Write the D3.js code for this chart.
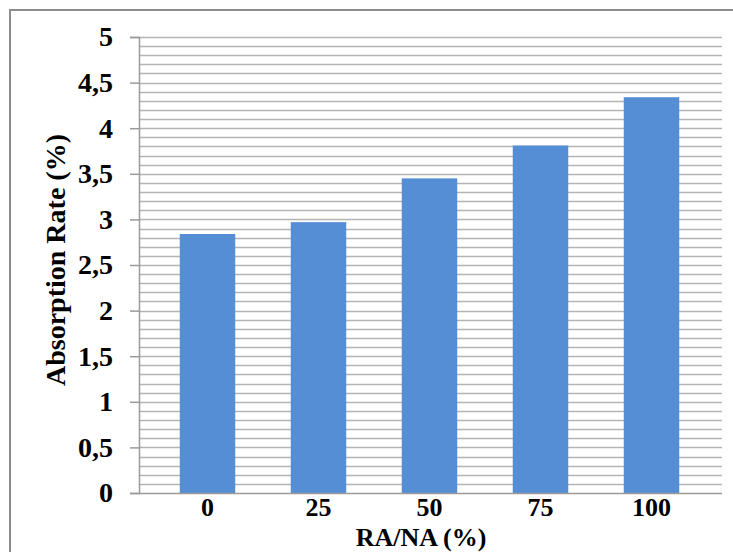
<!DOCTYPE html>
<html>
<head>
<meta charset="utf-8">
<script src="https://cdn.jsdelivr.net/npm/d3@7"></script>
<style>
  body { margin: 0; background: #fff; }
  svg { display: block; }
</style>
</head>
<body>
<div id="chart"></div>
<script>
// Data
const categories = ['0', '25', '50', '75', '100'];
const absorption = [2.84, 2.97, 3.45, 3.81, 4.34];
const yTicks = [0, 0.5, 1, 1.5, 2, 2.5, 3, 3.5, 4, 4.5, 5];

const width = 733;
const height = 552;
const plotLeft = 139;
const plotRight = 722;
const plotTop = 37;
const plotBottom = 493;
const font = '"Liberation Serif", "Times New Roman", serif';

const svg = d3.select('#chart')
  .append('svg')
  .attr('width', width)
  .attr('height', height);

// Outer chart border
svg.append('rect')
  .attr('x', 10)
  .attr('y', 10)
  .attr('width', 740)
  .attr('height', 560)
  .attr('fill', 'none')
  .attr('stroke', '#8c8c8c')
  .attr('stroke-width', 2);

const x = d3.scaleBand()
  .domain(categories)
  .range([152, 707])
  .paddingInner(0.5)
  .paddingOuter(0.25);

const y = d3.scaleLinear()
  .domain([0, 5])
  .range([plotBottom, plotTop]);

// Minor gridlines every 0.1
const gridVals = d3.range(1, 51).map(i => i / 10);
svg.append('g')
  .selectAll('line')
  .data(gridVals)
  .join('line')
  .attr('x1', plotLeft)
  .attr('x2', plotRight)
  .attr('y1', d => Math.round(y(d)) + 0.5)
  .attr('y2', d => Math.round(y(d)) + 0.5)
  .attr('stroke', '#b4b4b4')
  .attr('stroke-width', 1.3);

// Bars
svg.append('g')
  .selectAll('rect')
  .data(absorption)
  .join('rect')
  .attr('x', (d, i) => x(categories[i]))
  .attr('y', d => y(d))
  .attr('width', x.bandwidth())
  .attr('height', d => y(0) - y(d))
  .attr('fill', '#558ed5');

// Bottom axis line
svg.append('line')
  .attr('x1', plotLeft)
  .attr('x2', plotRight)
  .attr('y1', plotBottom + 0.5)
  .attr('y2', plotBottom + 0.5)
  .attr('stroke', '#9a9a9a')
  .attr('stroke-width', 1.5);

// Left axis
const yAxis = svg.append('g')
  .attr('transform', `translate(${plotLeft},0)`)
  .call(d3.axisLeft(y).tickValues(yTicks).tickSize(9).tickPadding(17)
    .tickFormat(d => String(d).replace('.', ',')));
yAxis.select('.domain').attr('stroke', '#9a9a9a').attr('stroke-width', 1.5);
yAxis.selectAll('.tick line').attr('stroke', '#9a9a9a').attr('stroke-width', 1.5);
yAxis.selectAll('.tick text')
  .attr('font-family', font)
  .attr('font-weight', 'bold')
  .attr('font-size', '28px')
  .attr('fill', '#000');

// Bottom category labels
const xAxis = svg.append('g')
  .attr('transform', `translate(0,${plotBottom})`)
  .call(d3.axisBottom(x).tickSize(0).tickPadding(5));
xAxis.select('.domain').remove();
xAxis.selectAll('.tick text')
  .attr('font-family', font)
  .attr('font-weight', 'bold')
  .attr('font-size', '26px')
  .attr('fill', '#000');

// Axis titles
svg.append('text')
  .attr('x', 421)
  .attr('y', 546)
  .attr('text-anchor', 'middle')
  .attr('font-family', font)
  .attr('font-weight', 'bold')
  .attr('font-size', '26px')
  .text('RA/NA (%)');

svg.append('text')
  .attr('transform', 'translate(65,260) rotate(-90)')
  .attr('text-anchor', 'middle')
  .attr('font-family', font)
  .attr('font-weight', 'bold')
  .attr('font-size', '28px')
  .text('Absorption Rate (%)');
</script>
</body>
</html>
